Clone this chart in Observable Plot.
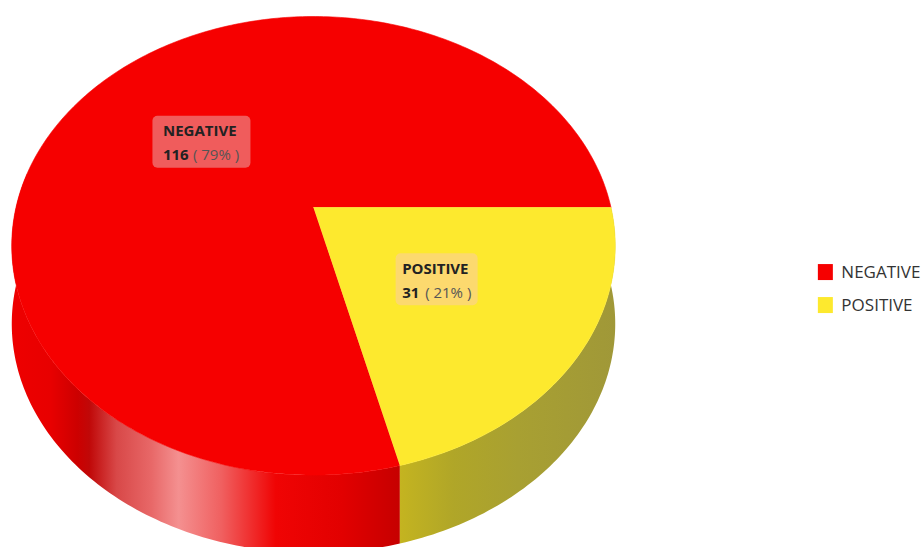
<!DOCTYPE html>
<html>
<head>
<meta charset="utf-8">
<script src="https://cdn.jsdelivr.net/npm/d3@7"></script>
<script src="https://cdn.jsdelivr.net/npm/@observablehq/plot@0.6"></script>
<style>
  html, body { margin: 0; padding: 0; background: #fff; }
  svg { display: block; }
  g[aria-label="slice name"] text { letter-spacing: -0.6px; }
  g[aria-label="slice count"] text { letter-spacing: -0.4px; }
  g[aria-label="slice share"] text { letter-spacing: -0.2px; }
  g[aria-label="legend label"] text { letter-spacing: -0.95px; }
</style>
</head>
<body>
<div id="chart"></div>
<script>
// Test results shown as a tilted 3D pie
const categories = ["NEGATIVE", "POSITIVE"];
const counts = [116, 31];
const percents = [79, 21];
const faceColors = ["#f60000", "#fde92e"];
const labelBoxColors = ["#f05c5c", "#fcd96e"];

// Tilt of the disc: the far side recedes, and the wall hangs below the rim
const tilt = 0.167;
const wallDepth = 0.35;
const labelRadius = 0.5;

const total = d3.sum(counts);
const firstAngle = 2 * Math.PI * counts[1] / total;
const arcs = d3.pie().sort(null).startAngle(firstAngle).endAngle(firstAngle + 2 * Math.PI)(counts);

// Disc coordinates (radius r, angle a clockwise from 3 o'clock) seen in perspective
function project(r, a) {
  const X = r * Math.cos(a), Y = r * Math.sin(a), w = 1 - tilt * Y;
  return {x: X / w, y: Y / w};
}

function sweep(a0, a1) {
  const n = Math.max(2, Math.ceil(Math.abs(a1 - a0) * 60));
  return d3.range(n + 1).map(i => a0 + (a1 - a0) * i / n);
}

const faces = arcs.flatMap((arc, i) => [
  {...project(0, 0), name: categories[i]},
  ...sweep(arc.startAngle, arc.endAngle).map(a => ({...project(1, a), name: categories[i]}))
]);

// Wall outline: rim forward, then the same rim dropped by the depth, backward
function wall(a0, a1) {
  const rim = sweep(a0, a1).map(a => project(1, a));
  return [...rim, ...rim.slice().reverse().map(p => ({x: p.x, y: p.y + wallDepth}))];
}
const negativeWall = wall(firstAngle, Math.PI * 1.05);
const positiveWall = wall(0, firstAngle);

// Half sizes, in pixels, of each label's box and of its text block
const boxHalfWidths = [49, 41];
const textHalfWidths = [39, 35];
const countWidths = [25, 18];

const labels = arcs.map((arc, i) => ({
  ...project(labelRadius, (arc.startAngle + arc.endAngle) / 2),
  name: categories[i], count: counts[i], percent: percents[i], box: labelBoxColors[i],
  boxHalf: boxHalfWidths[i], textHalf: textHalfWidths[i], countWidth: countWidths[i]
}));

// Shading of the walls along their width
function gradient(id, stops) {
  return () => {
    const defs = d3.create("svg:defs");
    const g = defs.append("linearGradient").attr("id", id);
    stops.forEach(([o, c]) => g.append("stop").attr("offset", o).attr("stop-color", c));
    return defs.node();
  };
}

const labelFont = {fontFamily: "'Open Sans', sans-serif", fontSize: 15};
const legendFont = {fontFamily: "'Open Sans', sans-serif", fontSize: 17, fill: "#333"};

// Label and legend boxes are sized in units of the plot's x and y scales
const xUnit = 297.5, yUnit = 222.9;
const legendRows = categories.map((name, i) => ({name, row: i}));
const legendX = 1.697, legendTop = 0.256, legendStep = 0.148;

const plot = Plot.plot({
  width: 923,
  height: 547,
  margin: 0,
  x: {domain: [-1, 1], range: [15.5, 610.5], axis: null},
  y: {domain: [-1, 1], range: [-15.9, 429.9], axis: null},
  color: {domain: categories, range: faceColors},
  marks: [
    gradient("wall-negative", [
      [0, "#ee0000"], [0.1, "#e80000"], [0.17, "#cc0000"], [0.2, "#c00808"], [0.27, "#d84848"],
      [0.36, "#e86868"], [0.43, "#f49090"], [0.54, "#f06060"], [0.68, "#f00404"],
      [0.85, "#e20000"], [1, "#c60000"]
    ]),
    gradient("wall-positive", [
      [0, "#c4b420"], [0.25, "#b0a628"], [0.55, "#a8a032"], [1, "#a09838"]
    ]),
    Plot.line(negativeWall, {x: "x", y: "y", fill: "url(#wall-negative)", stroke: "none", curve: "linear"}),
    Plot.line(positiveWall, {x: "x", y: "y", fill: "url(#wall-positive)", stroke: "none", curve: "linear"}),
    Plot.line(faces, {x: "x", y: "y", z: "name", fill: "name", stroke: "name", strokeWidth: 0.6, curve: "linear"}),

    // Value labels on the slices
    Plot.rect(labels, {
      x1: d => d.x - d.boxHalf / xUnit, x2: d => d.x + d.boxHalf / xUnit,
      y1: d => d.y - 26 / yUnit, y2: d => d.y + 26 / yUnit,
      fill: {value: d => d.box, scale: null}, rx: 5
    }),
    Plot.text(labels, {x: d => d.x - d.textHalf / xUnit, y: "y", text: "name", textAnchor: "start", dy: -11, fontWeight: 700, fill: "#222", ariaLabel: "slice name", ...labelFont}),
    Plot.text(labels, {x: d => d.x - d.textHalf / xUnit, y: "y", text: "count", textAnchor: "start", dy: 13, fontWeight: 700, fill: "#222", ariaLabel: "slice count", ...labelFont}),
    Plot.text(labels, {x: d => d.x + (d.countWidth + 5 - d.textHalf) / xUnit, y: "y", text: d => `( ${d.percent}% )`, textAnchor: "start", dy: 13, fill: "#555", ariaLabel: "slice share", ...labelFont}),

    // Legend on the right
    Plot.rect(legendRows, {
      x1: legendX, x2: legendX + 15 / xUnit,
      y1: d => legendTop + d.row * legendStep, y2: d => legendTop + d.row * legendStep + 16 / yUnit,
      fill: "name"
    }),
    Plot.text(legendRows, {
      x: legendX + 23 / xUnit, y: d => legendTop + d.row * legendStep + 8 / yUnit,
      text: "name", textAnchor: "start", ariaLabel: "legend label", ...legendFont
    })
  ]
});

document.getElementById("chart").append(plot);
</script>
</body>
</html>
